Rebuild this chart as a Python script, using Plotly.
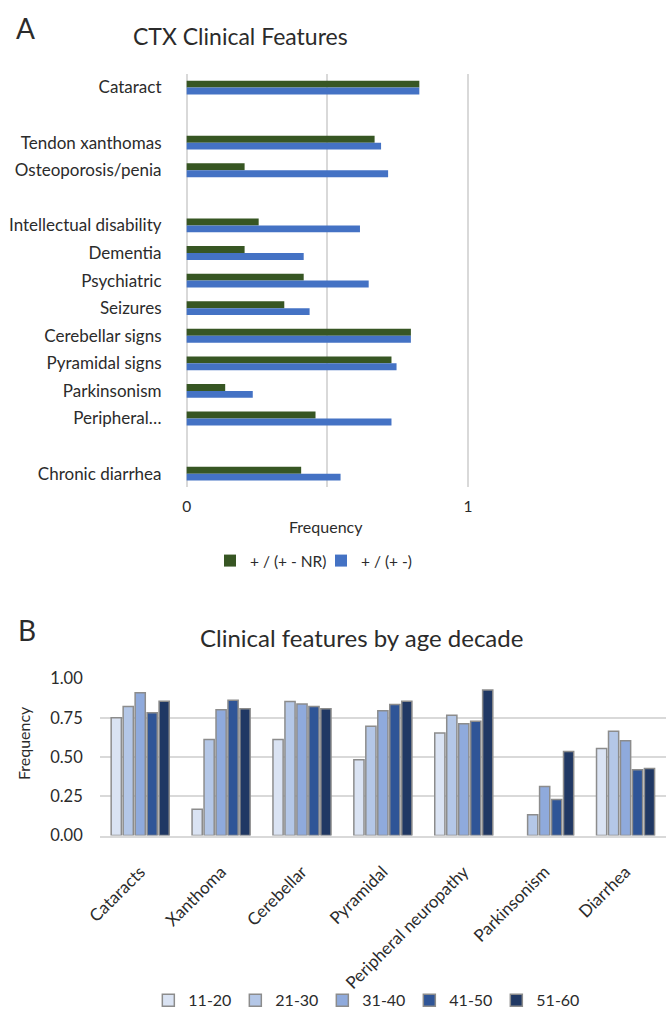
import plotly.graph_objects as go

# ---------------- Panel A data ----------------
features_a = ["Cataract", " ", "Tendon xanthomas", "Osteoporosis/penia", "  ",
              "Intellectual disability", "Dementia", "Psychiatric", "Seizures",
              "Cerebellar signs", "Pyramidal signs", "Parkinsonism", "Peripheral…",
              "   ", "Chronic diarrhea"]
freq_nr = [0.827, None, 0.668, 0.206, None, 0.256, 0.206, 0.416, 0.347,
           0.797, 0.728, 0.137, 0.458, None, 0.407]
freq_pm = [0.827, None, 0.691, 0.716, None, 0.616, 0.416, 0.647, 0.437,
           0.797, 0.746, 0.235, 0.728, None, 0.547]
series_a = ["+ / (+ - NR)", "+ / (+ -)"]
colors_a = ["#375623", "#4472C4"]
ticks_a = [0, 0.5, 1]
ticktext_a = ["0", "", "1"]

# ---------------- Panel B data ----------------
features_b = ["Cataracts", "Xanthoma", "Cerebellar", "Pyramidal",
              "Peripheral neuropathy", "Parkinsonism", "Diarrhea"]
decades = ["11-20", "21-30", "31-40", "41-50", "51-60"]
vals_b = {
    "11-20": [0.750, 0.167, 0.612, 0.483, 0.654, None, 0.554],
    "21-30": [0.823, 0.612, 0.854, 0.696, 0.767, 0.133, 0.665],
    "31-40": [0.910, 0.802, 0.839, 0.796, 0.713, 0.312, 0.604],
    "41-50": [0.783, 0.862, 0.823, 0.835, 0.729, 0.229, 0.419],
    "51-60": [0.856, 0.808, 0.808, 0.856, 0.927, 0.535, 0.427],
}
colors_b = ["#DAE3F3", "#B4C7E7", "#8FAADC", "#2F5597", "#203864"]
ticks_b = [0, 0.25, 0.5, 0.75, 1.0]

W, H = 669, 1022
FONT = "Lato"
TXT = "#2b2b2b"
GRID = "#D9D9D9"

def px_x(p):
    return p / W

def px_y(p):
    return 1 - p / H

fig = go.Figure()

for i, (name, vals, col) in enumerate(zip(series_a, [freq_nr, freq_pm], colors_a)):
    fig.add_trace(go.Bar(
        y=features_a, x=vals, name=name, orientation="h",
        marker=dict(color=col, line=dict(width=0)),
        width=0.25, offset=-0.25 + 0.25 * i,
        xaxis="x", yaxis="y", legend="legend",
    ))

for dec, col in zip(decades, colors_b):
    fig.add_trace(go.Bar(
        x=features_b, y=vals_b[dec], name=dec,
        marker=dict(color=col, line=dict(color="#8C8C8C", width=1.5)),
        xaxis="x2", yaxis="y2", legend="legend2",
    ))

fig.update_layout(
    width=W, height=H,
    margin=dict(l=0, r=0, t=0, b=0),
    paper_bgcolor="white", plot_bgcolor="white",
    font=dict(family=FONT, size=14, color=TXT),
    barmode="group", bargap=0.26, bargroupgap=0.15,
    xaxis=dict(
        domain=[px_x(176), px_x(467)], range=[-0.004, 1.004],
        tickvals=ticks_a, ticktext=ticktext_a,
        showgrid=True, gridcolor=GRID, gridwidth=1.5,
        zeroline=False, showline=False, ticks="",
        ticklabelstandoff=8, anchor="y",
        tickfont=dict(size=15.5),
    ),
    yaxis=dict(
        domain=[px_y(487), px_y(65)],
        type="category", categoryorder="array", categoryarray=features_a,
        autorange="reversed", showgrid=False, zeroline=False, showline=False,
        ticks="", ticklabelstandoff=23, anchor="x",
        tickfont=dict(size=17),
    ),
    xaxis2=dict(
        domain=[px_x(88), 1.0], anchor="y2",
        type="category", tickangle=-45, showgrid=False,
        showline=True, linecolor=GRID, linewidth=1.5, ticks="",
        ticklabelstandoff=18, tickfont=dict(size=17),
    ),
    yaxis2=dict(
        domain=[px_y(842), px_y(682)], anchor="x2",
        range=[0, 1.0], tickvals=ticks_b, tickformat=".2f",
        showgrid=True, gridcolor=GRID, gridwidth=1.5, zeroline=False,
        showline=False, ticks="", ticklabelstandoff=16,
        tickfont=dict(size=16.5),
    ),
    legend=dict(
        orientation="h", x=px_x(315), xanchor="center",
        y=px_y(562), yanchor="middle", font=dict(size=15.5),
        itemwidth=30, entrywidth=66, traceorder="normal", bgcolor="rgba(0,0,0,0)",
    ),
    legend2=dict(
        orientation="h", x=px_x(361), xanchor="center",
        y=px_y(1010), yanchor="middle", font=dict(size=16),
        itemwidth=30, entrywidth=42, traceorder="normal", bgcolor="rgba(0,0,0,0)",
    ),
    showlegend=True,
)

annotations = [
    dict(text="A", x=px_x(12), y=px_y(18), font=dict(size=28, color=TXT)),
    dict(text="B", x=px_x(13), y=px_y(632), font=dict(size=28, color=TXT)),
    dict(text="CTX Clinical Features", x=px_x(232), y=px_y(27), font=dict(size=23, color=TXT)),
    dict(text="Clinical features by age decade", x=px_x(357), y=px_y(640), font=dict(size=24, color=TXT)),
    dict(text="Frequency", x=px_x(320), y=px_y(527), font=dict(size=16, color=TXT)),
    dict(text="Frequency", x=px_x(10), y=px_y(748), textangle=-90, font=dict(size=16, color=TXT)),
]
for a in annotations:
    a.update(xref="paper", yref="paper", showarrow=False, xanchor="center", yanchor="middle")
fig.update_layout(annotations=annotations)

fig.write_html("out.html")
